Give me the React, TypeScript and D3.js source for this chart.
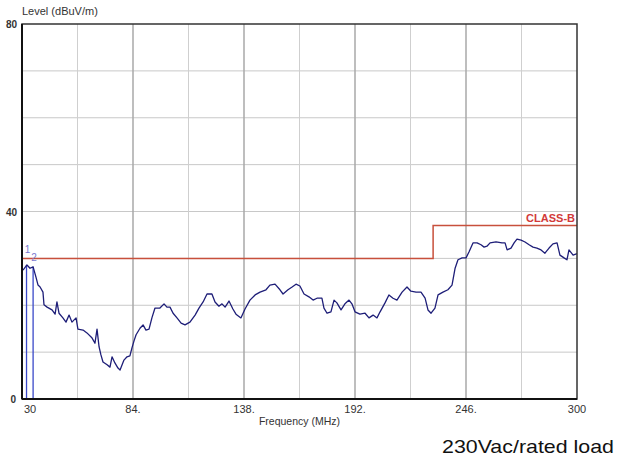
import React from "react";
import * as d3 from "d3";

const freqs: number[] = [30.5,32.4,33.9,35.4,36.8,37.8,38.8,40.2,40.7,42.2,44.6,46.1,47.0,48.0,49.9,51.4,52.9,54.3,56.3,57.2,59.7,61.6,64.1,65.5,66.5,67.5,68.4,69.4,71.4,72.8,73.8,75.2,76.7,77.7,79.6,81.1,82.5,83.5,84.5,85.5,87.4,88.9,90.3,91.8,93.2,94.7,97.1,99.1,100.5,102.0,103.5,105.4,107.4,109.3,111.7,114.2,116.1,118.1,120.0,122.4,123.9,125.8,127.3,128.8,130.7,132.6,134.1,136.5,138.5,140.9,143.4,145.8,148.7,150.6,153.1,155.5,157.0,159.4,161.4,163.3,165.2,167.2,169.6,171.6,173.5,175.9,176.9,178.4,180.3,181.8,183.2,185.2,187.1,189.1,190.5,192.0,194.4,196.9,198.8,200.8,202.7,204.2,206.6,208.5,210.5,212.4,214.9,217.3,219.2,221.7,224.1,226.1,227.5,229.0,230.9,232.4,234.8,237.2,239.2,240.7,242.1,244.1,246.0,247.5,249.4,251.4,253.3,254.8,256.2,257.7,260.6,263.5,265.0,266.0,267.9,269.4,270.8,272.8,274.7,276.7,278.6,280.5,282.5,284.4,286.4,288.3,290.3,291.7,293.7,295.1,296.1,298.1,300.0];
const levels: number[] = [27.5,28.6,27.9,28.2,26.0,24.3,23.9,22.8,20.1,19.6,19.0,18.1,20.7,18.3,17.3,16.4,17.9,16.4,17.3,14.9,14.7,14.1,13.0,11.9,14.9,11.1,9.4,7.9,7.3,6.8,9.0,7.7,6.6,6.2,8.3,9.0,9.2,10.9,12.4,13.7,15.1,15.8,14.7,14.9,17.3,19.4,19.4,20.3,19.6,19.6,18.3,17.3,16.2,15.8,16.4,17.9,19.4,20.7,22.4,22.4,20.7,19.8,20.3,19.6,20.9,19.2,18.1,17.3,19.2,21.1,22.2,22.8,23.3,24.3,24.5,23.3,22.4,23.3,23.9,24.5,24.1,22.4,21.8,21.1,21.5,21.5,19.4,18.3,18.6,21.1,20.5,19.0,20.3,21.1,20.3,18.6,18.1,18.3,17.3,17.9,17.3,18.6,20.5,22.2,21.5,21.1,22.8,23.9,23.0,22.8,22.8,21.5,19.0,18.3,19.4,22.2,22.8,23.3,24.3,27.9,29.7,30.1,30.1,31.4,33.3,33.3,32.9,32.4,32.6,33.3,33.5,33.3,33.3,31.8,32.2,33.3,34.1,33.9,33.5,32.9,32.4,32.2,31.8,31.1,32.2,33.1,33.3,30.7,30.1,29.7,31.8,30.7,31.0];

const limitFreqs: number[] = [30, 230, 230, 300];
const limitLevels: number[] = [30, 30, 37, 37];

const markerFreqs: number[] = [32.2, 35.4];
const markerLevels: number[] = [28.6, 28.2];
const markerNames: string[] = ["1", "2"];

const xTickValues: number[] = [30, 84, 138, 192, 246, 300];
const xTickLabels: string[] = ["30", "84.", "138.", "192.", "246.", "300"];
const xGridValues: number[] = [57, 84, 111, 138, 165, 192, 219, 246, 273];
const yTickValues: number[] = [0, 40, 80];
const yGridValues: number[] = [10, 20, 30, 40, 50, 60, 70];

export default function App() {
  const W = 618, H = 462;
  const left = 22, right = 577, top = 24, bottom = 399;
  const x = d3.scaleLinear().domain([30, 300]).range([left, right]);
  const y = d3.scaleLinear().domain([0, 80]).range([bottom, top]);

  const trace = d3.line<number>().x((_, i) => x(freqs[i])).y((_, i) => y(levels[i]))(levels) || "";
  const limit = d3.line<number>().x((_, i) => x(limitFreqs[i])).y((_, i) => y(limitLevels[i]))(limitLevels) || "";
  const font = "'Liberation Sans Narrow', 'Liberation Sans', Arial, sans-serif";

  return (
    <svg width={W} height={H} style={{ position: "absolute", left: 0, top: 0, background: "#fff" }} fontFamily={font}>
      <rect x={0} y={0} width={W} height={H} fill="#fff" />
      {yGridValues.map((v) => (
        <line key={"hy" + v} x1={left} x2={right} y1={y(v)} y2={y(v)} stroke="#c8c8c8" strokeWidth={1} />
      ))}
      {xGridValues.map((v) => (
        <line key={"vx" + v} x1={x(v)} x2={x(v)} y1={top} y2={bottom}
          stroke={xTickValues.includes(v) ? "#a8a8a8" : "#cfcfcf"} strokeWidth={xTickValues.includes(v) ? 1.5 : 1} />
      ))}
      <path d={limit} fill="none" stroke="#c8503c" strokeWidth={1.5} />
      <text x={right - 2} y={y(37) - 4} textAnchor="end" fill="#d23a3a" fontSize={11} fontWeight="bold">CLASS-B</text>
      {markerFreqs.map((f, i) => (
        <line key={"m" + i} x1={x(f)} x2={x(f)} y1={bottom} y2={y(markerLevels[i])} stroke="#3a48c8" strokeWidth={1.3} />
      ))}
      <path d={trace} fill="none" stroke="#1e1e78" strokeWidth={1.3} strokeLinejoin="round" />
      {markerFreqs.map((f, i) => (
        <text key={"ml" + i} x={x(f) + 1} y={y(markerLevels[i]) - 6 - (i === 0 ? 6 : 0)} textAnchor="middle" fill="#7a7ad0" fontSize={10}>{markerNames[i]}</text>
      ))}
      <rect x={left} y={top} width={right - left} height={bottom - top} fill="none" stroke="#333" strokeWidth={1.5} />
      <line x1={left} x2={left} y1={top} y2={bottom} stroke="#111" strokeWidth={2} />
      <line x1={left} x2={right} y1={bottom} y2={bottom} stroke="#111" strokeWidth={2} />
      {yTickValues.map((v) => (
        <text key={"yl" + v} x={v === 0 ? 16 : 17} y={y(v) + 4} textAnchor="end" fontSize={10} fontWeight="bold" fill="#333">{v}</text>
      ))}
      {xTickValues.map((v, i) => (
        <text key={"xl" + v} x={i === 0 ? x(v) + 8 : x(v)} y={bottom + 14} textAnchor="middle" fontSize={11} fill="#333">{xTickLabels[i]}</text>
      ))}
      <text x={left} y={15} fontSize={11} fill="#333">Level (dBuV/m)</text>
      <text x={(left + right) / 2} y={bottom + 26} textAnchor="middle" fontSize={10.5} fill="#333">Frequency (MHz)</text>
      <text x={442} y={453} fontSize={19} fill="#111" textLength={172} lengthAdjust="spacingAndGlyphs" fontFamily="'Liberation Sans', Arial, sans-serif">230Vac/rated load</text>
    </svg>
  );
}
